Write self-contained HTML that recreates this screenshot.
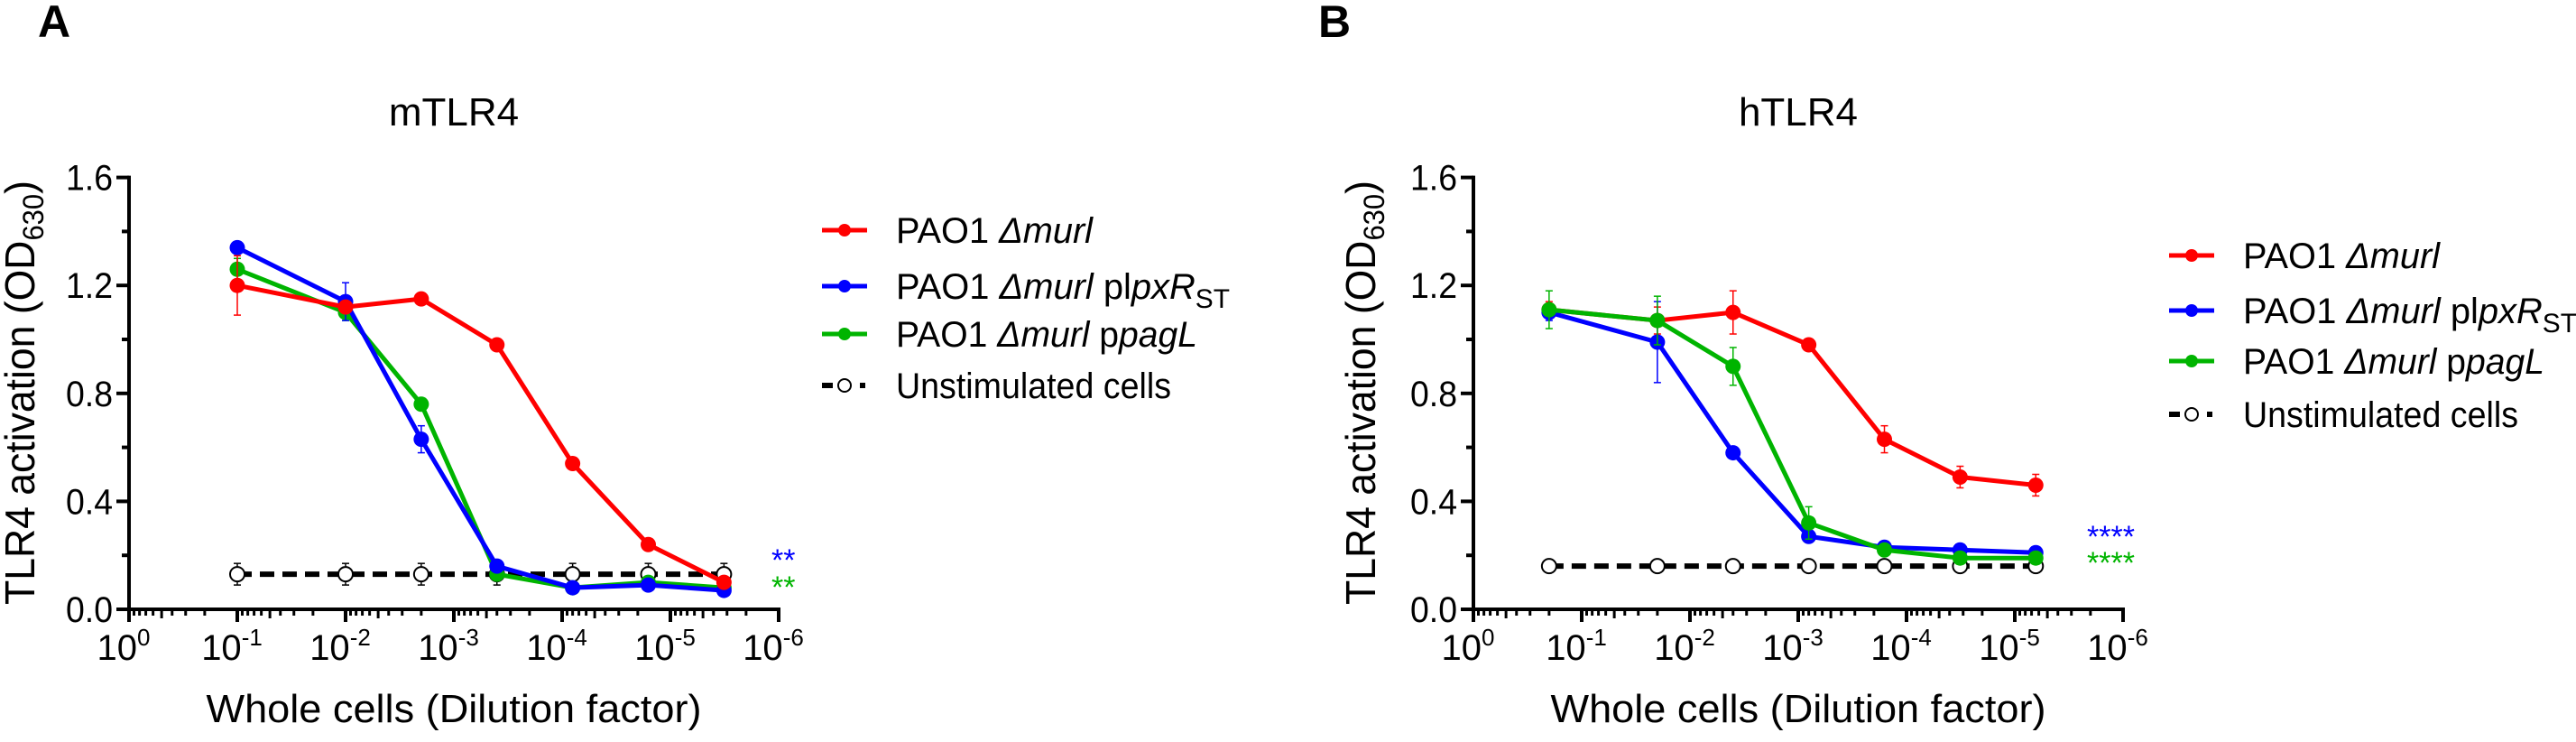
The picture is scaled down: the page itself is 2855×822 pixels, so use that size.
<!DOCTYPE html>
<html><head><meta charset="utf-8">
<style>
html,body{margin:0;padding:0;background:#fff;}
svg{display:block;font-family:"Liberation Sans",Arial,sans-serif;}
</style></head>
<body>
<svg id="fig" width="2855" height="822" viewBox="0 0 2855 822" xmlns="http://www.w3.org/2000/svg">
<rect width="2855" height="822" fill="#fff"/>
</svg>
<script>
// ---------- data ----------
const seriesNames = ["PAO1 Δmurl","PAO1 Δmurl plpxRST","PAO1 Δmurl ppagL","Unstimulated cells"];
const yTicks = [0.0,0.4,0.8,1.2,1.6];
const yTickLabels = ["0.0","0.4","0.8","1.2","1.6"];
const xDecades = [0,1,2,3,4,5,6];
const xTickExps = ["0","-1","-2","-3","-4","-5","-6"];

const dilA = [1e-1,1e-2,2e-3,4e-4,8e-5,1.6e-5,3.2e-6];
const redA = [1.20,1.12,1.15,0.98,0.54,0.24,0.10];
const blueA = [1.34,1.14,0.63,0.16,0.08,0.09,0.07];
const greenA = [1.26,1.10,0.76,0.13,0.08,0.10,0.08];
const ctrlA = [0.13,0.13,0.13,0.13,0.13,0.13,0.13];
const redErrA = [0.11,0.02,0.02,0.02,0.02,0.02,0.02];
const blueErrA = [0.02,0.07,0.05,0.02,0.01,0.01,0.01];
const greenErrA = [0.04,0.03,0.02,0.02,0.01,0.01,0.01];
const ctrlErrA = [0.04,0.04,0.04,0.04,0.04,0.04,0.04];

const dilB = [2e-1,2e-2,4e-3,8e-4,1.6e-4,3.2e-5,6.4e-6];
const redB = [1.11,1.07,1.10,0.98,0.63,0.49,0.46];
const blueB = [1.10,0.99,0.58,0.27,0.23,0.22,0.21];
const greenB = [1.11,1.07,0.90,0.32,0.22,0.19,0.19];
const ctrlB = [0.16,0.16,0.16,0.16,0.16,0.16,0.16];
const redErrB = [0.03,0.05,0.08,0.02,0.05,0.04,0.04];
const blueErrB = [0.03,0.15,0.02,0.02,0.01,0.01,0.01];
const greenErrB = [0.07,0.09,0.07,0.06,0.01,0.01,0.01];
const ctrlErrB = [0.01,0.01,0.01,0.01,0.01,0.01,0.01];

// ---------- helpers ----------
const NS = "http://www.w3.org/2000/svg";
const svg = document.getElementById("fig");
function mk(tag, attrs, parent){
  const e = document.createElementNS(NS, tag);
  for (const k in attrs) e.setAttribute(k, attrs[k]);
  (parent||svg).appendChild(e);
  return e;
}
const RED="#ff0000", BLUE="#0000ff", GREEN="#00b400";

function panel(cfg){
  const g = mk("g",{});
  
  
  const X0 = cfg.x0, DEC = 120, Y0 = 675, YS = 299;
  const xs = v => X0 + (-Math.log10(v))*DEC;
  const ys = v => Y0 - v*YS/1.0;

  // panel letter
  const L = mk("text",{x:cfg.letterX,y:41,"font-size":50,"font-weight":"bold"},g);
  L.textContent = cfg.letter;
  
  
  // title
  const T = mk("text",{x:X0+360,y:139,"font-size":44,"text-anchor":"middle"},g);
  T.textContent = cfg.title;
  
  

  // axes
  const ax = mk("g",{stroke:"#000","stroke-width":4,fill:"none"},g);
  
  
  mk("line",{x1:X0,y1:ys(1.6)-2,x2:X0,y2:Y0+2},ax);
  mk("line",{x1:X0-2,y1:Y0,x2:X0+720+2,y2:Y0},ax);
  // y ticks
  for (let i=0;i<yTicks.length;i++){
    const y = ys(yTicks[i]);
    mk("line",{x1:X0-14,y1:y,x2:X0,y2:y},ax);
    const t = mk("text",{x:X0-18,y:y+14,"font-size":40,"text-anchor":"end",fill:"#000",stroke:"none",textLength:52,lengthAdjust:"spacingAndGlyphs"},g);
    t.textContent = yTickLabels[i];
    
    
    if (i<yTicks.length-1){
      const ym = ys((yTicks[i]+yTicks[i+1])/2);
      mk("line",{x1:X0-8,y1:ym,x2:X0,y2:ym},ax);
    }
  }
  // x ticks (log, decreasing)
  for (let i=0;i<xDecades.length;i++){
    const x = X0 + xDecades[i]*DEC;
    mk("line",{x1:x,y1:Y0,x2:x,y2:Y0+14},ax);
    const t = mk("text",{x:x-6,y:Y0+56,"font-size":40,"text-anchor":"middle",fill:"#000",stroke:"none"},g);
    
    
    const a = mk("tspan",{},t); a.textContent="10";
    const b = mk("tspan",{dy:-16,"font-size":26},t); b.textContent = xTickExps[i];
    if (i<xDecades.length-1){
      for (let m=9;m>=2;m--){
        const xm = X0 + (xDecades[i] - Math.log10(m/10))*DEC;
        mk("line",{x1:xm,y1:Y0,x2:xm,y2:Y0+(m===5?10:7),"stroke-width":3},ax);
      }
    }
  }
  // axis titles
  const xt = mk("text",{x:X0+360,y:800,"font-size":44,"text-anchor":"middle",textLength:549,lengthAdjust:"spacingAndGlyphs"},g);
  xt.textContent = "Whole cells (Dilution factor)";
  
  
  const yt = mk("text",{x:0,y:0,"font-size":46,"text-anchor":"middle",textLength:470,lengthAdjust:"spacingAndGlyphs",transform:`translate(${cfg.ytX},435) rotate(-90)`},g);
  
  
  const y1 = mk("tspan",{},yt); y1.textContent = "TLR4 activation (OD";
  const y2 = mk("tspan",{dy:10,"font-size":32},yt); y2.textContent = "630";
  const y3 = mk("tspan",{dy:-10},yt); y3.textContent = ")";

  // control dashed series
  const cg = mk("g",{},g);
  
  
  const cpts = cfg.dil.map((d,i)=>xs(d)+","+ys(cfg.ctrl[i])).join(" ");
  mk("polyline",{points:cpts,fill:"none",stroke:"#000","stroke-width":6,"stroke-dasharray":"16 9"},cg);
  cfg.dil.forEach((d,i)=>{
    const x=xs(d), y=ys(cfg.ctrl[i]), e=cfg.ctrlErr[i]*YS;
    mk("line",{x1:x,y1:y-e,x2:x,y2:y+e,stroke:"#000","stroke-width":1.5},cg);
    mk("line",{x1:x-4,y1:y-e,x2:x+4,y2:y-e,stroke:"#000","stroke-width":1.5},cg);
    mk("line",{x1:x-4,y1:y+e,x2:x+4,y2:y+e,stroke:"#000","stroke-width":1.5},cg);
    const c = mk("circle",{cx:x,cy:y,r:8,fill:"#fff",stroke:"#000","stroke-width":2},cg);
    
    
  });

  const ser = [
    {vals:cfg.green,err:cfg.greenErr,col:GREEN,name:"series-ppagl"},
    {vals:cfg.blue,err:cfg.blueErr,col:BLUE,name:"series-plpxr"},
    {vals:cfg.red,err:cfg.redErr,col:RED,name:"series-murl"}
  ];
  if (cfg.letter==="B") ser.reverse();
  ser.forEach(s=>{
    const sg = mk("g",{},g);
    
    
    cfg.dil.forEach((d,i)=>{
      const x=xs(d), y=ys(s.vals[i]), e=s.err[i]*YS;
      mk("line",{x1:x,y1:y-e,x2:x,y2:y+e,stroke:s.col,"stroke-width":1.5},sg);
      mk("line",{x1:x-4,y1:y-e,x2:x+4,y2:y-e,stroke:s.col,"stroke-width":1.5},sg);
      mk("line",{x1:x-4,y1:y+e,x2:x+4,y2:y+e,stroke:s.col,"stroke-width":1.5},sg);
    });
    const pts = cfg.dil.map((d,i)=>xs(d)+","+ys(s.vals[i])).join(" ");
    mk("polyline",{points:pts,fill:"none",stroke:s.col,"stroke-width":5,"stroke-linejoin":"round"},sg);
    cfg.dil.forEach((d,i)=>{
      const c = mk("circle",{cx:xs(d),cy:ys(s.vals[i]),r:8.5,fill:s.col},sg);
      
      
    });
  });

  // significance stars
  const s1 = mk("text",{x:cfg.starX,y:cfg.starY1,"font-size":34,fill:BLUE},g);
  s1.textContent = cfg.stars;
  
  
  const s2 = mk("text",{x:cfg.starX,y:cfg.starY2,"font-size":34,fill:GREEN},g);
  s2.textContent = cfg.stars;
  
  

  // legend
  const lg = mk("g",{},g);
  
  
  const cols=[RED,BLUE,GREEN,"#000"];
  const widths=[218,370,334,305];
  cfg.legY.forEach((ly,i)=>{
    const eg = mk("g",{},lg);
    
    
    const lx = cfg.legX;
    if (i<3){
      mk("line",{x1:lx,y1:ly,x2:lx+50,y2:ly,stroke:cols[i],"stroke-width":5},eg);
      mk("circle",{cx:lx+25,cy:ly,r:7,fill:cols[i]},eg);
    } else {
      mk("line",{x1:lx,y1:ly,x2:lx+12,y2:ly,stroke:"#000","stroke-width":6},eg);
      mk("line",{x1:lx+42,y1:ly,x2:lx+48,y2:ly,stroke:"#000","stroke-width":6},eg);
      mk("circle",{cx:lx+25,cy:ly,r:7,fill:"#fff",stroke:"#000","stroke-width":2},eg);
    }
    const t = mk("text",{x:lx+82,y:ly+14,"font-size":40,textLength:widths[i],lengthAdjust:"spacingAndGlyphs"},eg);
    if (i===3){ t.textContent = "Unstimulated cells"; }
    else {
      const a=mk("tspan",{},t); a.textContent="PAO1 ";
      const b=mk("tspan",{"font-style":"italic"},t); b.textContent="Δmurl";
      if (i===1){
        const c=mk("tspan",{},t); c.textContent=" pl";
        const d=mk("tspan",{"font-style":"italic"},t); d.textContent="pxR";
        const e=mk("tspan",{dy:10,"font-size":30},t); e.textContent="ST";
      } else if (i===2){
        const c=mk("tspan",{},t); c.textContent=" p";
        const d=mk("tspan",{"font-style":"italic"},t); d.textContent="pagL";
      }
    }
  });
}

panel({name:"panel-a-mtlr4",letter:"A",letterX:42,title:"mTLR4",x0:143,ytX:38,
  dil:dilA,red:redA,blue:blueA,green:greenA,ctrl:ctrlA,
  redErr:redErrA,blueErr:blueErrA,greenErr:greenErrA,ctrlErr:ctrlErrA,
  stars:"**",starX:855,starY1:632,starY2:662,legX:911,legY:[255,317,370,427]});
panel({name:"panel-b-htlr4",letter:"B",letterX:1461,title:"hTLR4",x0:1633,ytX:1524,
  dil:dilB,red:redB,blue:blueB,green:greenB,ctrl:ctrlB,
  redErr:redErrB,blueErr:blueErrB,greenErr:greenErrB,ctrlErr:ctrlErrB,
  stars:"****",starX:2313,starY1:606,starY2:635,legX:2404,legY:[283,344,400,459]});
</script>
</body></html>
